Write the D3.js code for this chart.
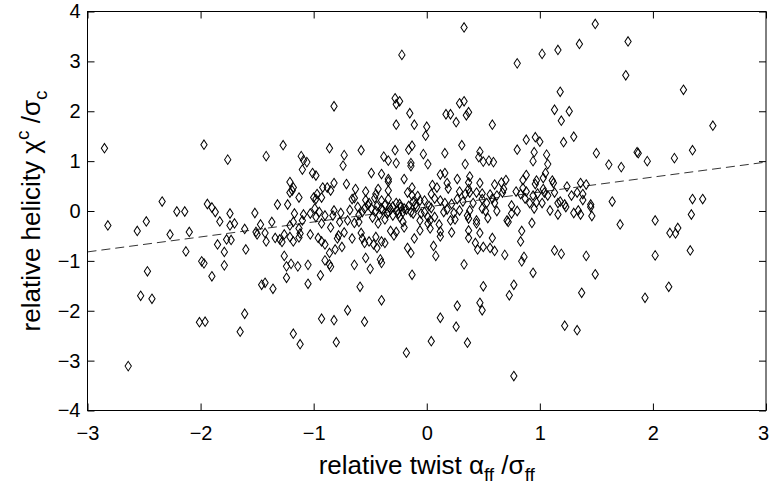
<html>
<head>
<meta charset="utf-8">
<script src="https://d3js.org/d3.v7.min.js"></script>
<style>
body{ margin:0; background:#fff; }
svg text{ font-family:"Liberation Sans", Arial, Helvetica, sans-serif; fill:#000; }
</style>
</head>
<body>
<div id="chart"></div>
<script>
// relative twist (x) and relative helicity (y)
var twist = [
-2.85,-2.34,-2.82,-2.64,-2.56,-2.48,-2.47,-2.53,-2.43,-2.27,-2.21,-2.14,-2.10,-2.13,-2.01,
-1.97,-1.76,-1.42,-1.27,-1.11,-1.09,-1.06,-1.10,-1.01,-1.21,-1.18,-1.21,-1.13,-1.19,-1.32,-1.23,-1.94,-1.90,-1.00,
-1.87,-1.74,-1.83,-1.74,-1.70,-1.52,-1.61,-1.77,-1.73,-1.85,-1.79,-1.60,-1.99,-1.97,-1.79,-1.90,-1.96,-1.61,-1.65,
-1.51,-1.47,-1.50,-1.43,-1.37,-1.42,-1.34,-1.30,-1.28,-1.26,-1.21,-1.18,-1.13,-1.12,-1.21,-1.18,-1.13,-1.17,-1.09,-1.10,-1.03,-1.03,
-1.26,-1.24,-1.20,-1.14,-1.05,-1.24,-1.46,-1.43,-1.36,-1.05,-1.18,-1.12,
-0.22,-0.82,-0.28,-0.24,-0.27,-0.15,-0.27,-0.11,0.00,-0.01,-0.86,-0.73,-0.58,-0.74,-0.38,-0.34,-0.28,-0.27,-0.16,-0.13,-0.14,-0.14,-0.03,0.01,
-0.98,-0.49,-0.40,-0.34,-0.34,-0.20,-0.92,-0.88,-0.85,-0.82,-0.71,-0.63,-0.54,-0.43,-0.45,-0.34,-0.13,-0.17,-0.13,-0.06,
-0.97,-0.98,-0.93,-0.66,-0.64,-0.54,-0.51,-0.46,-0.40,-0.34,-0.24,-0.12,-0.02,
0.33,0.80,1.02,0.29,0.33,0.17,0.21,0.26,0.35,0.37,0.58,0.31,0.16,0.34,0.47,0.46,0.50,0.55,0.59,0.80,0.88,0.96,1.00,0.95,0.94,
0.12,0.16,0.27,0.38,0.37,0.70,0.66,0.88,0.85,0.97,0.96,0.05,0.09,0.18,0.19,0.47,0.60,0.68,0.85,0.88,
0.29,0.34,0.37,0.38,0.44,0.49,0.56,0.58,0.62,0.67,0.79,0.83,0.87,0.94,0.98,
0.04,0.07,0.12,0.16,0.22,0.27,0.32,0.41,0.49,0.53,0.60,0.75,0.91,0.97,
1.49,1.78,1.35,1.16,1.76,1.18,1.13,1.26,1.19,1.21,1.30,1.06,1.07,1.05,1.03,1.11,1.12,1.50,1.61,1.72,1.86,1.87,1.95,
1.24,1.36,1.41,1.33,1.38,1.28,1.03,1.04,1.13,1.07,1.18,1.22,1.16,1.38,1.45,1.64,1.02,
1.09,1.16,1.23,1.30,1.34,1.36,1.46,1.45,1.71,2.02,1.13,1.19,1.41,2.02,1.49,1.37,1.93,1.22,1.33,
2.27,2.53,2.35,2.19,2.35,2.44,2.34,2.15,2.20,2.22,2.33,2.14,
-0.93,-0.82,-0.80,-0.55,-0.70,-0.59,-0.40,-0.18,-0.13,-0.94,-0.64,-0.54,-0.50,-0.41,-0.40,-0.90,-0.86,-0.85,-0.86,-0.81,-0.75,
-0.96,-0.93,-0.90,-0.79,-0.78,-0.73,-0.66,-0.58,-0.57,-0.55,-0.51,-0.47,-0.45,-0.44,-0.40,-0.37,-0.32,-0.29,-0.27,-0.20,-0.11,-0.17,-0.14,-0.06,
-0.85,-0.93,-0.98,-0.95,-0.90,-0.83,-0.77,-0.82,-0.76,-0.70,-0.64,-0.60,-0.61,-0.57,-0.48,-0.43,-0.37,-0.34,-0.30,-0.24,-0.21,-0.26,-0.21,-0.12,-0.06,-0.02,
-0.49,-0.40,-0.32,-0.99,
0.77,0.04,0.36,0.12,0.26,0.27,0.47,0.49,0.50,0.73,0.77,0.94,0.33,0.69,0.84,0.86,0.06,0.08,0.12,0.12,0.22,0.37,0.37,0.47,0.43,0.45,0.50,0.56,0.58,0.60,
0.84,0.83,0.93,0.03,0.01,0.11,0.21,0.25,0.37,0.36,0.44,0.44,0.54,0.52,0.62,0.71,0.72,0.75,0.80,0.95,0.29,0.38,0.49,0.24,0.15,0.18,0.07,0.03,0.01,
-0.44,-0.37,-0.30,-0.27,-0.20,-0.16,-0.09,-0.05,-0.35,-0.42,-0.55,-0.60,-0.68,-0.08,0.02,-0.45,-0.25,
-0.33,-0.18,-0.10,-0.39,-0.23,-0.14,0.04,-0.52
];
var helicity = [
1.26,0.19,-0.29,-3.11,-0.40,-0.21,-1.21,-1.70,-1.76,-0.47,-0.01,-0.01,-0.42,-0.81,-2.23,
1.33,1.03,1.10,1.32,1.10,1.02,0.98,0.83,0.76,0.58,0.47,0.37,0.27,0.41,0.13,0.13,0.14,0.07,0.27,
-0.02,-0.05,-0.21,-0.29,-0.25,-0.04,-0.36,-0.57,-0.58,-0.67,-0.82,-0.77,-1.01,-1.05,-1.09,-1.31,-2.22,-2.06,-2.42,
-0.42,-0.27,-0.47,-0.44,-0.22,-0.61,-0.54,-0.57,-0.62,-0.47,-0.52,-0.61,-0.53,-0.45,-0.29,-0.22,-0.35,-0.05,-0.07,-0.19,-0.05,-0.47,
-0.90,-1.11,-1.06,-1.11,-1.08,-1.34,-1.48,-1.44,-1.56,-1.46,-2.46,-2.67,
3.13,2.10,2.26,2.20,2.14,1.96,1.73,1.73,1.69,1.51,1.26,1.12,1.22,0.91,1.09,1.01,1.22,0.96,1.23,1.31,0.96,0.90,1.14,0.94,
0.71,0.76,0.74,0.64,0.59,0.64,0.47,0.47,0.41,0.56,0.54,0.44,0.39,0.44,0.34,0.41,0.47,0.37,0.31,0.21,
0.34,0.24,0.27,0.24,0.26,0.22,0.16,0.26,0.21,0.24,0.14,0.19,0.21,
3.68,2.96,3.15,2.16,2.20,1.94,1.94,1.78,1.92,1.98,1.73,1.32,1.16,0.94,1.19,1.08,0.99,1.01,0.98,1.23,1.43,1.48,1.39,1.18,1.00,
0.73,0.76,0.64,0.69,0.57,0.62,0.57,0.72,0.62,0.61,0.54,0.52,0.47,0.56,0.45,0.56,0.53,0.44,0.46,0.39,
0.39,0.34,0.44,0.37,0.37,0.35,0.33,0.25,0.31,0.37,0.39,0.34,0.25,0.31,0.35,
0.34,0.25,0.21,0.16,0.14,0.24,0.19,0.16,0.24,0.16,0.16,0.11,0.16,0.17,
3.75,3.40,3.35,3.23,2.72,2.39,2.03,2.00,1.81,1.38,1.49,1.13,0.94,0.76,0.66,0.61,0.56,1.16,0.93,0.88,1.18,1.16,1.00,
0.49,0.56,0.53,0.37,0.34,0.31,0.44,0.37,0.37,0.31,0.19,0.13,0.16,0.22,0.13,0.19,0.16,
0.01,-0.07,0.08,-0.04,0.01,-0.07,-0.10,0.08,-0.27,-0.19,-0.79,-0.86,-0.90,-0.89,-1.27,-1.64,-1.74,-2.30,-2.39,
2.43,1.71,1.22,1.06,0.24,0.24,-0.07,-0.44,-0.45,-0.34,-0.79,-1.52,
-2.16,-2.19,-2.63,-2.22,-1.99,-1.52,-1.79,-2.84,-1.28,-1.29,-1.08,-0.94,-1.16,-0.97,-1.04,-0.99,-1.07,-1.12,-0.84,-0.77,-0.72,
-0.54,-0.61,-0.67,-0.55,-0.49,-0.43,-0.55,-0.44,-0.55,-0.64,-0.61,-0.67,-0.52,-0.74,-0.61,-0.64,-0.40,-0.49,-0.42,-0.33,-0.55,-0.74,-0.84,-0.39,
-0.33,-0.25,-0.12,-0.02,-0.09,-0.09,-0.22,0.01,-0.04,-0.19,-0.24,-0.22,0.08,-0.02,-0.13,-0.25,-0.17,-0.02,-0.09,-0.12,-0.22,0.01,-0.02,-0.05,-0.19,-0.02,
0.05,0.05,0.03,0.05,
-3.31,-2.61,-2.64,-2.14,-2.32,-1.90,-1.84,-1.99,-1.51,-1.69,-1.48,-1.24,-1.07,-0.88,-1.01,-0.92,-0.70,-0.90,-0.51,-0.41,-0.43,-0.39,-0.54,-0.44,-0.64,-0.77,-0.72,-0.74,-0.54,-0.80,
-0.40,-0.61,-0.24,-0.35,-0.25,-0.27,-0.19,-0.17,-0.15,-0.09,-0.19,-0.25,-0.14,0.00,0.00,-0.19,-0.22,-0.05,0.00,0.05,0.01,0.01,0.05,-0.04,-0.02,0.03,-0.12,-0.19,-0.12,
0.10,0.12,0.09,0.16,0.05,0.10,0.08,-0.05,-0.05,-0.08,0.05,-0.08,0.02,0.30,0.10,0.00,-0.05,
0.07,0.03,0.13,0.02,0.08,-0.02,0.06,0.12
];
// least-squares fit line, ends at the frame
var fitX = [-3, 3];
var fitY = [-0.82, 0.98];

var xTicks = [-3, -2, -1, 0, 1, 2, 3];
var yTicks = [-4, -3, -2, -1, 0, 1, 2, 3, 4];

var W = 770, H = 486;
var margin = {top: 11.5, right: 4, bottom: 75.5, left: 87.5};

var svg = d3.select("#chart").append("svg")
  .attr("width", W).attr("height", H);

var x = d3.scaleLinear().domain([-3, 3]).range([margin.left, W - margin.right]);
var y = d3.scaleLinear().domain([-4, 4]).range([H - margin.bottom, margin.top]);

var fmt = function(d){ return d < 0 ? "\u2212" + Math.abs(d) : "" + d; };

// axes: ticks pointing in, MATLAB-like box
svg.append("g")
  .attr("transform", "translate(0," + y(-4) + ")")
  .call(d3.axisBottom(x).tickValues(xTicks).tickFormat(fmt).tickSizeInner(-7).tickSizeOuter(0).tickPadding(15))
  .call(function(g){
    g.select(".domain").remove();
    g.selectAll("text").style("font-size", "20px");
    g.selectAll("text").filter(function(d){ return d === 3; }).attr("dx", -3);
  });
svg.append("g")
  .attr("transform", "translate(0," + y(4) + ")")
  .call(d3.axisTop(x).tickValues(xTicks).tickFormat("").tickSizeInner(-7).tickSizeOuter(0))
  .call(function(g){ g.select(".domain").remove(); });
svg.append("g")
  .attr("transform", "translate(" + x(-3) + ",0)")
  .call(d3.axisLeft(y).tickValues(yTicks).tickFormat(fmt).tickSizeInner(-7).tickSizeOuter(0).tickPadding(7))
  .call(function(g){ g.select(".domain").remove(); g.selectAll("text").style("font-size", "20px"); });
svg.append("g")
  .attr("transform", "translate(" + x(3) + ",0)")
  .call(d3.axisRight(y).tickValues(yTicks).tickFormat("").tickSizeInner(-7).tickSizeOuter(0))
  .call(function(g){ g.select(".domain").remove(); });

svg.selectAll(".tick line").attr("stroke", "#000");

svg.append("rect")
  .attr("x", x(-3)).attr("y", y(4))
  .attr("width", x(3) - x(-3)).attr("height", y(-4) - y(4))
  .attr("fill", "none").attr("stroke", "#000").attr("stroke-width", 1);

// fit line
var line = d3.line().x(function(d){ return x(d[0]); }).y(function(d){ return y(d[1]); });
svg.append("path")
  .datum(d3.zip(fitX, fitY))
  .attr("d", line)
  .attr("fill", "none").attr("stroke", "#000").attr("stroke-width", 0.8)
  .attr("stroke-dasharray", "9,5");

// diamonds
var diamond = d3.symbol().type(d3.symbolDiamond).size(26);
svg.append("g").selectAll("path")
  .data(d3.zip(twist, helicity))
  .enter().append("path")
  .attr("d", diamond)
  .attr("transform", function(d){ return "translate(" + x(d[0]) + "," + y(d[1]) + ") scale(1.15,1)"; })
  .attr("fill", "none").attr("stroke", "#000").attr("stroke-width", 0.9);

// axis titles
var xl = svg.append("text")
  .attr("x", (x(-3) + x(3)) / 2).attr("y", 474)
  .attr("text-anchor", "middle").style("font-size", "26px");
xl.append("tspan").text("relative twist \u03b1");
xl.append("tspan").attr("dy", 7).style("font-size", "19px").text("ff");
xl.append("tspan").attr("dy", -7).text(" /\u03c3");
xl.append("tspan").attr("dy", 7).style("font-size", "19px").text("ff");

var yl = svg.append("text")
  .attr("transform", "translate(40," + (y(0)) + ") rotate(-90)")
  .attr("text-anchor", "middle").style("font-size", "26px");
yl.append("tspan").text("relative helicity \u03c7");
yl.append("tspan").attr("dy", -11).style("font-size", "19px").text("c");
yl.append("tspan").attr("dy", 11).text(" /\u03c3");
yl.append("tspan").attr("dy", 7).style("font-size", "19px").text("c");
</script>
</body>
</html>
